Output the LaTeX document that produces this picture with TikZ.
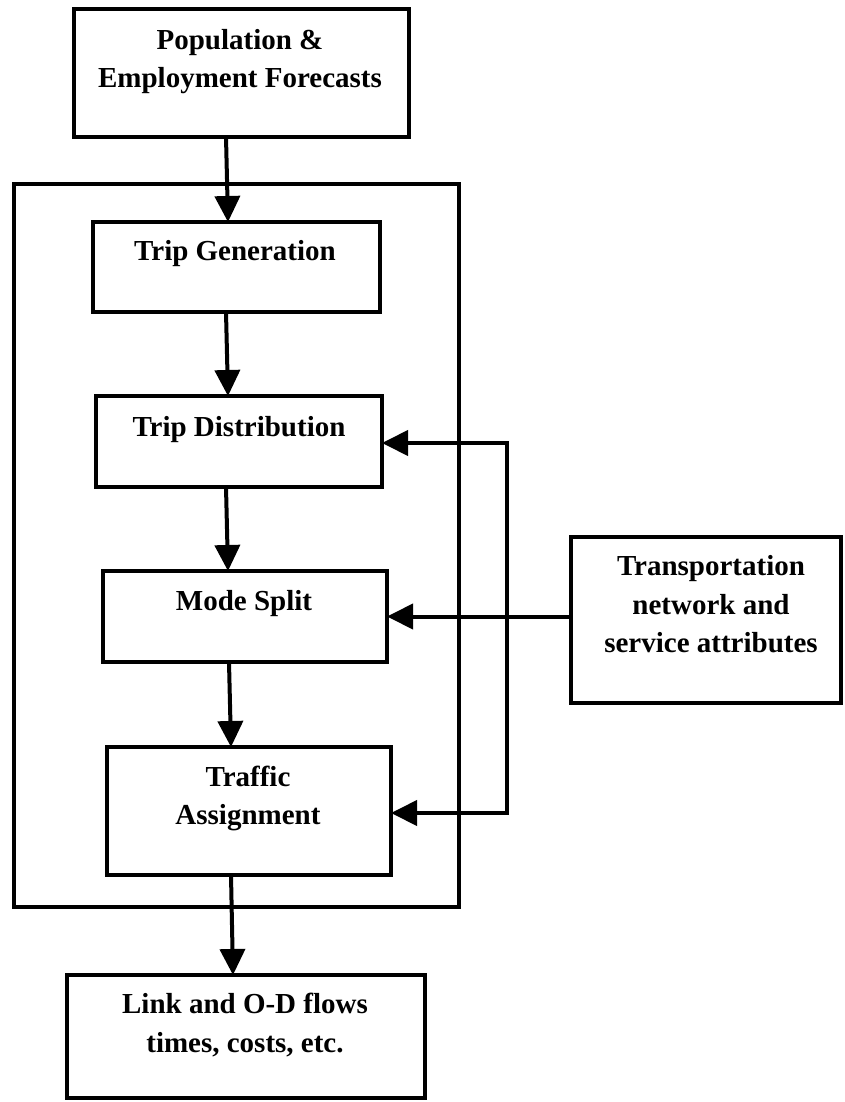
\documentclass[tikz,border=0pt]{standalone}
\usepackage{fontspec}
\setmainfont{Liberation Serif}
\usetikzlibrary{arrows.meta}

\tikzset{
  box/.style={draw, line width=4pt, rectangle, inner sep=0pt, outer sep=0pt},
  txt/.style={font=\bfseries\fontsize{29}{38.5}\selectfont, align=center, inner sep=0pt},
  arr/.style={line width=4pt, -{Triangle[length=26pt,width=25pt]}},
  darr/.style={line width=4pt, line join=miter,
    {Triangle[length=26pt,width=25pt]}-{Triangle[length=26pt,width=25pt]}}
}

\begin{document}
\begin{tikzpicture}[x=1pt,y=-1pt]
  \fill[white] (0,0) rectangle (844,1102);
  \useasboundingbox (0,0) rectangle (844,1102);

  % model frame
  \node[box, minimum width=445pt, minimum height=723pt] (frame) at (236.5,545.5) {};

  % boxes
  \node[box, minimum width=335pt, minimum height=128pt] (pop)   at (241.5,73) {};
  \node[box, minimum width=287pt, minimum height=90pt]  (gen)   at (236.5,267) {};
  \node[box, minimum width=286pt, minimum height=91pt]  (dist)  at (239,441.5) {};
  \node[box, minimum width=284pt, minimum height=91pt]  (mode)  at (245,616.5) {};
  \node[box, minimum width=284pt, minimum height=128pt] (assign) at (249,811) {};
  \node[box, minimum width=358pt, minimum height=123pt] (flows) at (246,1036.5) {};
  \node[box, minimum width=270pt, minimum height=166pt] (net)   at (706,620) {};

  % labels
  \node[txt] (popt)    at (240,61.5)  {Population \&\\Employment Forecasts};
  \node[txt] (gent)    at (235,254)   {Trip Generation};
  \node[txt] (distt)   at (239,430)   {Trip Distribution};
  \node[txt] (modet)   at (244,604)   {Mode Split};
  \node[txt] (assignt) at (248,798.5) {Traffic\\Assignment};
  \node[txt] (flowst)  at (245,1025)  {Link and O-D flows\\times, costs, etc.};
  \node[txt] (nett)    at (711,604.5) {Transportation\\network and\\service attributes};

  % x positions of the main chain of arrows
  \coordinate (xa) at (226,0);
  \coordinate (xb) at (228,0);
  \coordinate (xc) at (229,0);
  \coordinate (xd) at (231,0);
  \coordinate (xe) at (233,0);

  % main sequence
  \draw[arr] (xa |- pop.south)    -- (xb |- gen.north);
  \draw[arr] (xa |- gen.south)    -- (xb |- dist.north);
  \draw[arr] (xa |- dist.south)   -- (xb |- mode.north);
  \draw[arr] (xc |- mode.south)   -- (xd |- assign.north);
  \draw[arr] (xd |- assign.south) -- (xe |- flows.north);

  % network attributes feeding back into the model steps
  \coordinate (fbtop) at (507,443);
  \coordinate (fbbot) at (507,813);
  \draw[darr] (fbtop -| dist.east) -- (fbtop) -- (fbbot) -- (fbbot -| assign.east);
  \draw[arr] (mode.east -| net.west) -- (mode.east);
\end{tikzpicture}
\end{document}
